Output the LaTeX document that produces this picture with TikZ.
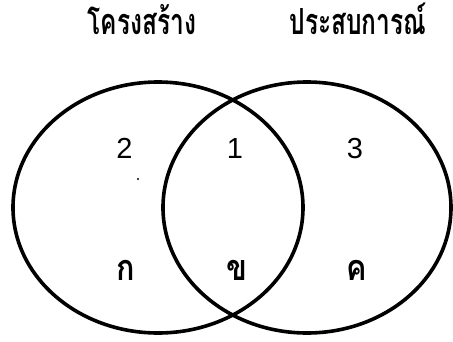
\documentclass[tikz,border=0pt]{standalone}
\usepackage{graphicx}
\usepackage{fontspec}
\setmainfont{Liberation Sans}
\newfontfamily\thaifont[Script=Thai]{Loma}
\begin{document}
\begin{tikzpicture}[x=1pt,y=-1pt,
  ring/.style={draw=black,line width=3.6pt},
  title/.style={anchor=base,inner sep=0pt,font=\thaifont\bfseries\fontsize{36}{40}\selectfont},
  num/.style={anchor=base,inner sep=0pt,font=\fontsize{29}{32}\selectfont},
  thl/.style={anchor=base,inner sep=0pt,font=\thaifont\bfseries\fontsize{36}{40}\selectfont}]
\useasboundingbox (0,0) rectangle (453,341);
\draw[ring] (158,207.5) ellipse [x radius=145,y radius=125.5];
\draw[ring] (307,207.5) ellipse [x radius=144,y radius=125.5];
\node[title] (t1) at (142,34) {\scalebox{0.68}[1]{โครงสร้าง}};
\node[title] (t2) at (358,34) {\scalebox{0.68}[1]{ประสบการณ์}};
\node[num] (n2) at (124.5,158) {2};
\node[num] (n1) at (235,158) {1};
\node[num] (n3) at (355,158) {3};
\node[thl] (k1) at (125.5,280) {\scalebox{0.85}[1]{ก}};
\node[thl] (k2) at (237,280) {\scalebox{0.85}[1]{ข}};
\node[thl] (k3) at (357,280) {\scalebox{0.85}[1]{ค}};
\fill (138,179) circle (1.1);
\end{tikzpicture}
\end{document}
